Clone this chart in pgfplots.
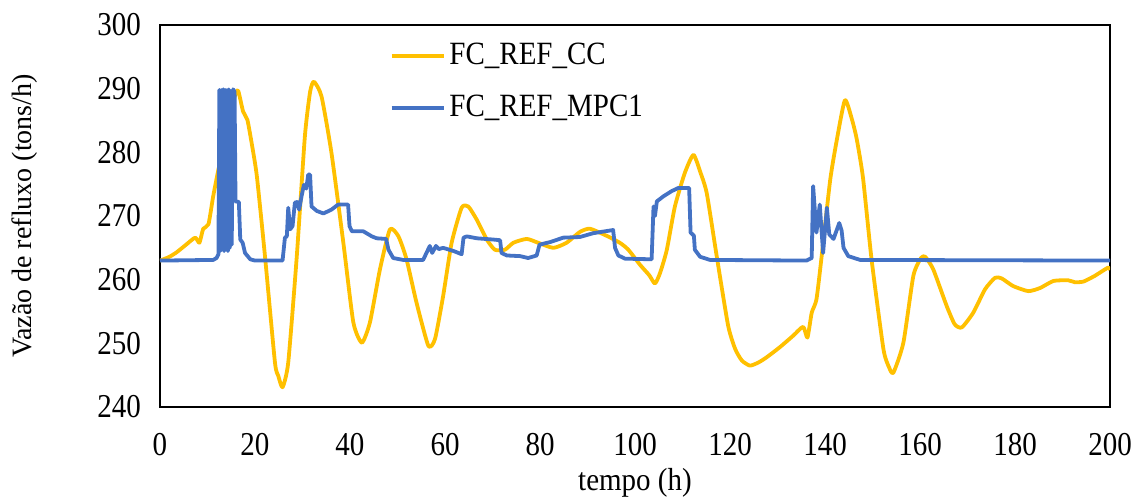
\documentclass[border=0pt]{standalone}
\usepackage{fontspec}
\setmainfont{Liberation Serif}
\usepackage{pgfplots}
\pgfplotsset{compat=1.18}
\definecolor{ccyel}{HTML}{FFC000}
\definecolor{mpcblue}{HTML}{4472C4}
\begin{document}
\begin{tikzpicture}
\begin{axis}[
  scale only axis, width=475pt, height=191pt,
  xmin=0, xmax=200, ymin=240, ymax=300,
  xtick distance=20, ytick distance=10,
  major tick length=0pt,
  axis line style={black, line width=0.8pt},
  /pgf/number format/assume math mode=true,
  tick label style={font=\fontsize{14.5}{16}\selectfont, yscale=1.15},
  yticklabel style={xshift=-6pt},
  xticklabel style={yshift=-8pt},
  label style={font=\fontsize{14.5}{16}\selectfont},
  xlabel={tempo (h)},
  ylabel={Vazão de refluxo (tons/h)},
  xlabel style={at={(axis description cs:0.5,-0.198)}, anchor=center, yscale=1.1},
  ylabel style={at={(axis description cs:-0.142,0.5)}, anchor=center, font=\fontsize{14}{16}\selectfont},
  legend style={at={(0.235,0.975)}, anchor=north west, draw=none, fill=none,
    font=\fontsize{14.5}{16}\selectfont, row sep=9pt, nodes={yscale=1.12}},
  legend cell align=left,
  legend image code/.code={\draw[#1] (0pt,0pt) -- (26pt,0pt);},
]
\addplot[ccyel, line width=1.9pt, line join=round, smooth, tension=0.35] coordinates {
(0,263.0)(0.4,263.1)(2,263.6)(3.5,264.3)(5.5,265.5)(7.4,266.6)(8.3,265.8)(9.1,268.0)(10.2,268.7)
(11.2,273.1)(12.3,277.3)(13.5,281.5)(14.8,286.5)(16.0,289.4)(16.5,289.6)(17.5,286.4)(18.4,285.1)
(19.4,281.0)(20.4,276.2)(22.1,263.7)(24.2,247.0)(24.9,244.9)(25.8,243.1)(27.0,247.0)(28.8,263.7)
(30.5,282.5)(31.6,289.5)(32.4,291.1)(34.0,288.8)(36.1,279.9)(38.6,265.8)(40.7,253.3)(42.5,250.1)
(44.2,253.3)(46.3,261.6)(48.4,267.9)(50.2,266.8)(51.9,263.2)(54.0,256.4)(56.5,249.6)(57.9,250.7)
(59.6,257.4)(61.4,265.8)(63.5,271.3)(64.9,271.5)(66.7,269.4)(68.8,266.3)(70.5,264.7)(72.6,264.7)
(74.4,265.8)(77.2,266.4)(79.6,265.8)(82.8,265.0)(85.6,265.8)(88.4,267.5)(90.5,268.0)(94.0,266.9)
(96.8,265.8)(98.6,264.7)(101.1,262.3)(103.0,260.7)(104.2,259.4)(105.3,261.1)(106.7,264.7)(108.4,271.5)
(110.5,276.8)(112.3,279.6)(113.7,277.0)(115.1,273.6)(117.2,263.7)(119.6,252.8)(121.1,249.1)(122.5,247.3)
(124.2,246.5)(126.0,247.0)(127.7,247.8)(130.5,249.4)(133.3,251.2)(135.4,252.6)(136.3,250.9)(137.2,254.8)
(138.2,256.9)(139.3,263.7)(141.1,275.7)(142.5,282.0)(144.2,288.2)(145.7,285.1)(146.7,282.0)(148.0,276.0)
(149.8,263.2)(152.3,249.1)(153.5,246.2)(154.4,245.4)(156.5,250.1)(158.6,260.6)(160.2,263.4)(161.1,263.6)
(162.8,261.6)(165.6,255.9)(167.3,253.0)(168.8,252.5)(171.2,254.8)(173.7,258.5)(175.8,260.3)(177.2,260.2)
(179.6,259.0)(182.8,258.2)(185.3,258.7)(188.1,259.8)(191.2,259.9)(192.6,259.6)(194.4,259.7)(196.8,260.6)
(199.6,261.9)(200,261.5)
};
\addlegendentry{FC\_REF\_CC}
\addplot[mpcblue, line width=1.9pt, line join=round] coordinates {
(0,263.0)(11.2,263.1)(11.9,263.4)(12.3,264.0)(12.5,289.8)(12.7,264.5)(12.9,289.8)(13.1,264.8)
(13.3,289.9)(13.5,264.5)(13.7,289.8)(13.9,265.0)(14.1,289.8)(14.3,264.5)(14.5,289.9)(14.7,265.0)
(14.9,289.6)(15.1,265.5)(15.4,289.9)(15.7,289.5)(15.9,272.3)(16.6,272.2)(16.9,266.3)(17.4,265.8)
(17.9,264.2)(19.0,263.2)(20.0,263.0)(25.8,263.0)(26.3,266.6)(26.7,266.8)(27.0,271.3)(27.4,267.9)
(27.9,268.4)(28.4,272.1)(28.9,272.2)(29.3,271.0)(29.8,273.1)(30.3,274.9)(30.8,274.3)(31.2,276.5)
(31.6,276.5)(31.9,271.5)(33.0,270.8)(34.4,270.4)(36.1,271.0)(37.5,271.8)(39.6,271.8)(39.9,268.4)
(40.4,267.6)(42.8,267.6)(44.6,266.8)(45.6,266.5)(47.6,266.4)(48.1,264.7)(49.1,263.4)(51.2,263.1)
(55.4,263.1)(56.1,264.2)(56.8,265.3)(57.3,264.2)(58.1,265.3)(58.7,264.8)(59.6,265.0)(61.8,264.5)
(63.5,264.0)(63.9,266.6)(64.6,266.8)(66.7,266.5)(70.2,266.3)(71.6,266.2)(71.9,264.2)(73.0,263.8)
(75.8,263.7)(77.5,263.4)(79.3,263.8)(79.9,265.5)(82.1,265.9)(84.9,266.6)(88.4,266.7)(91.2,267.3)
(95.4,267.8)(95.8,265.0)(96.5,263.8)(97.9,263.3)(103.5,263.2)(103.9,271.5)(104.2,270.0)(104.6,272.3)
(106.0,273.1)(107.7,273.9)(109.1,274.4)(111.4,274.4)(111.7,267.4)(112.4,266.9)(112.6,264.7)(113.7,263.6)
(115.8,263.1)(136.1,263.0)(137.2,263.4)(137.5,274.7)(138.2,267.4)(138.9,271.8)(139.6,264.2)(140.4,271.3)
(140.9,267.1)(141.8,266.4)(143.0,268.9)(143.5,267.7)(143.9,265.0)(144.9,263.7)(147.4,263.1)(200,263.0)
};
\addlegendentry{FC\_REF\_MPC1}
\end{axis}
\pgfresetboundingbox
\useasboundingbox (-80pt,-46pt) rectangle (487.5pt,203.5pt);
\end{tikzpicture}
\end{document}
